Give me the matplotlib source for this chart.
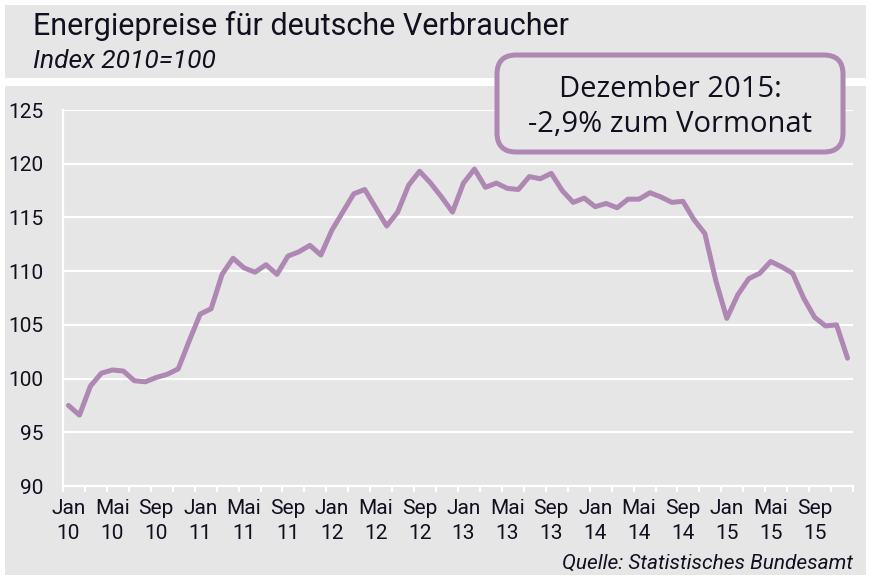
import matplotlib
matplotlib.use("Agg")
import matplotlib.pyplot as plt
from matplotlib.patches import Rectangle, FancyBboxPatch

# --- Daten: Energiepreise, Index 2010=100, Jan 2010 - Dez 2015 ---
jahre = ["10", "11", "12", "13", "14", "15"]
monate_label = ["Jan", "Mai", "Sep"]
index_werte = [
    97.5, 96.6, 99.3, 100.5, 100.8, 100.7, 99.8, 99.7, 100.1, 100.4, 100.9, 103.5,
    106.0, 106.5, 109.7, 111.2, 110.3, 109.9, 110.6, 109.7, 111.4, 111.8, 112.4, 111.5,
    113.8, 115.5, 117.2, 117.6, 115.9, 114.2, 115.5, 118.0, 119.3, 118.2, 116.9, 115.5,
    118.2, 119.5, 117.8, 118.2, 117.7, 117.6, 118.8, 118.6, 119.1, 117.5, 116.4, 116.8,
    116.0, 116.3, 115.9, 116.7, 116.7, 117.3, 116.9, 116.4, 116.5, 114.8, 113.5, 109.1,
    105.6, 107.8, 109.3, 109.8, 110.9, 110.4, 109.8, 107.5, 105.7, 104.9, 105.0, 101.9,
]
y_ticks = [90, 95, 100, 105, 110, 115, 120, 125]

titel = "Energiepreise für deutsche Verbraucher"
untertitel = "Index 2010=100"
box_text = "Dezember 2015:\n-2,9% zum Vormonat"
quelle = "Quelle: Statistisches Bundesamt"

# --- Farben / Schrift ---
grau = "#e6e6e6"
lila = "#ae88b3"
text_farbe = "#10101e"
schmal = ["Roboto", "DejaVu Sans"]
plt.rcParams["font.family"] = schmal

W, H = 871, 580
fig = plt.figure(figsize=(W / 100, H / 100), dpi=100, facecolor="white")


def px(x, y):
    # Pixel (von oben links) -> Figurenkoordinaten
    return x / W, 1 - y / H


# graue Hintergrundflaechen (Kopf + Diagramm)
for x0, y0, x1, y1 in [(5, 5, 866, 78), (5, 86, 866, 575)]:
    fx, fy = px(x0, y1)
    fig.patches.append(Rectangle((fx, fy), (x1 - x0) / W, (y1 - y0) / H,
                                 transform=fig.transFigure, facecolor=grau,
                                 edgecolor="none", zorder=-5))

fig.text(*px(33, 26), titel, fontsize=22, color=text_farbe, va="center", ha="left")
fig.text(*px(33, 61), untertitel, fontsize=19, style="italic", color=text_farbe,
         va="center", ha="left")

# --- Achse ---
left, right, top, bottom = 63, 853, 110, 486
ax = fig.add_axes([left / W, 1 - bottom / H, (right - left) / W, (bottom - top) / H])
ax.set_facecolor(grau)
ax.set_zorder(1)

x = list(range(len(index_werte)))
ax.plot(x, index_werte, color=lila, linewidth=3.6, solid_joinstyle="round",
        solid_capstyle="round", zorder=3)

ax.set_xlim(-0.5, len(index_werte) - 0.5)
ax.set_ylim(90, 125)
ax.set_yticks(y_ticks)
ax.grid(axis="y", color="white", linewidth=1.6)
ax.set_axisbelow(True)

# x-Beschriftung alle 4 Monate, Striche alle 2 Monate
pos = list(range(0, len(index_werte), 4))
labels = [f"{monate_label[(p // 4) % 3]}\n{jahre[p // 12]}" for p in pos]
ax.set_xticks(pos)
ax.set_xticklabels(labels, linespacing=1.45)
ax.set_xticks([v - 0.5 for v in range(0, len(index_werte) + 1, 2)], minor=True)
ax.tick_params(axis="x", which="major", length=0, pad=9, labelsize=15,
               labelcolor=text_farbe)
ax.tick_params(axis="x", which="minor", length=4, width=1.6, color="white")
ax.tick_params(axis="y", length=0, pad=14, labelsize=15, labelcolor=text_farbe)

for s in ["top", "right"]:
    ax.spines[s].set_visible(False)
for s in ["left", "bottom"]:
    ax.spines[s].set_color("white")
    ax.spines[s].set_linewidth(1.6)

# --- Infobox ---
bx0, by0, bx1, by1 = 497, 55, 843, 152
fx, fy = px(bx0, by1)
fig.patches.append(FancyBboxPatch((fx, fy), (bx1 - bx0) / W, (by1 - by0) / H,
                                  boxstyle="round,pad=0,rounding_size=0.022",
                                  transform=fig.transFigure, facecolor=grau,
                                  edgecolor=lila, linewidth=3.6, zorder=5,
                                  mutation_aspect=W / H))
fig.text(*px((bx0 + bx1) / 2, 107), box_text, fontsize=21, color=text_farbe,
         ha="center", va="center", linespacing=1.3, zorder=6,
         family=["Open Sans", "DejaVu Sans"])

fig.text(*px(853, 563), quelle, fontsize=15, style="italic", color=text_farbe,
         ha="right", va="center")

fig.savefig("out.png", dpi=100, facecolor="white")
